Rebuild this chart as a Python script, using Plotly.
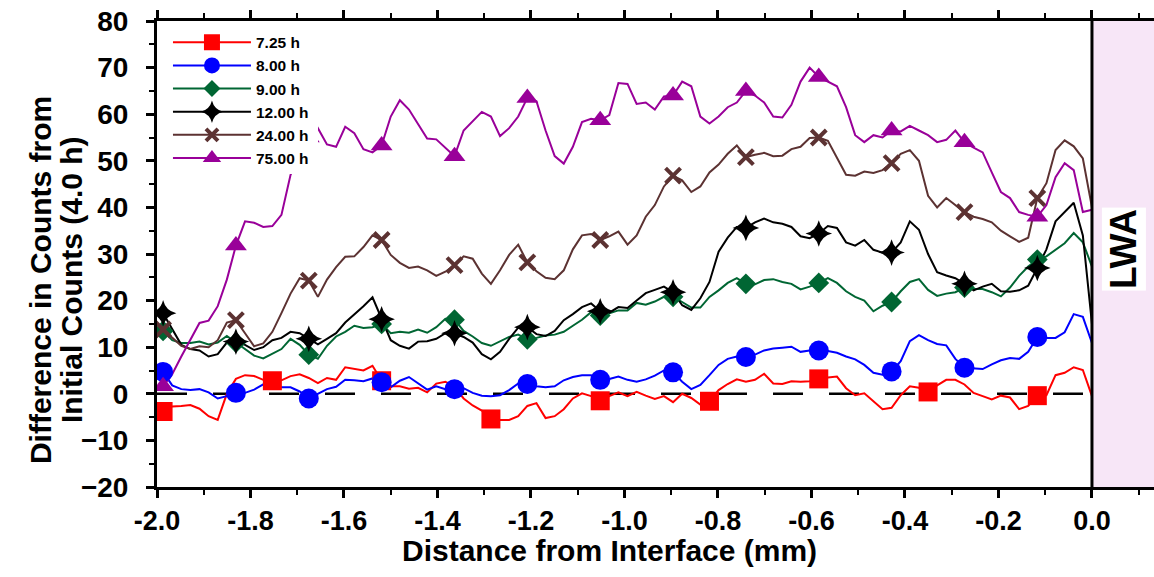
import numpy as np
import plotly.graph_objects as go

# sampling positions (mm from interface), regular measurement grid
distance_mm = np.round(np.linspace(-1.987, 0.0, 103), 4)

diff_7_25h = [-3.8, -2.7, -2.6, -2.4, -3.2, -4.8, -5.6, 0.0, 3.2, 4.0, 3.8, 3.0, 2.8, 2.9, 3.8, 4.2, 3.4,
              2.3, 3.4, 3.0, 5.7, 5.3, 5.0, 6.0, 2.8, 1.6, 1.6, 1.1, 1.3, 0.3, 2.2, 2.6, 1.5, -1.0,
              -2.5, -3.6, -5.4, -5.6, -5.6, -4.8, -2.6, -2.0, -5.2, -4.8, -3.3, -1.0, 0.1, -0.5, -1.5, -0.5, 0.3,
              -0.5, 0.4, -0.4, -1.1, -0.5, -1.8, 0.0, -0.9, -2.3, -1.6, 0.8, 2.1, 3.1, 2.6, 3.0, 4.3, 2.2,
              2.1, 2.7, 2.6, 2.7, 3.2, 3.5, 3.7, 1.2, -0.3, 0.1, -1.6, -3.3, -3.0, -0.3, 1.6, 1.3, 0.4,
              1.8, 3.0, 3.0, 2.0, 0.2, -0.5, -1.2, -0.4, -0.8, -3.3, -2.6, -0.4, -0.3, 4.0, 4.5, 5.7, 5.1, -0.5]

diff_8h = [4.7, 1.8, 1.0, 0.8, 1.0, 0.3, -1.0, -0.5, 0.2, 0.2, 0.9, 2.0, 1.2, 1.4, 1.4, 0.5, -1.0,
           0.0, 1.0, 1.5, 3.0, 2.9, 2.7, 3.3, 2.5, 1.4, 2.8, 3.6, 2.2, 0.9, 1.6, 1.0, 1.0, 1.2,
           0.2, -0.4, -0.5, -0.3, 0.8, 2.2, 2.1, 1.6, 1.4, 1.6, 2.9, 3.6, 4.0, 4.0, 3.0, 3.2, 3.7,
           3.0, 2.6, 3.1, 3.9, 5.0, 4.6, 2.6, 1.0, 1.9, 4.0, 6.2, 7.5, 8.0, 7.9, 8.4, 9.3, 9.7,
           9.9, 10.1, 9.0, 9.3, 9.3, 9.2, 8.8, 8.0, 7.4, 6.2, 4.5, 4.1, 4.8, 7.0, 11.3, 12.6, 11.5,
           10.7, 10.4, 7.5, 5.6, 5.5, 5.3, 6.3, 7.2, 7.7, 7.5, 9.0, 12.2, 12.0, 12.0, 13.2, 17.1, 16.5, 10.9]

diff_9h = [13.5, 11.5, 10.9, 10.9, 11.2, 10.6, 11.0, 12.4, 11.0, 9.6, 8.2, 7.6, 8.6, 9.6, 11.8, 10.5, 8.4,
           7.5, 10.3, 12.3, 13.3, 14.6, 14.1, 14.3, 15.0, 13.0, 13.3, 13.1, 13.8, 13.1, 14.3, 16.1, 15.9, 13.5,
           12.3, 10.9, 10.3, 11.2, 12.2, 12.7, 11.7, 12.0, 12.5, 12.7, 13.3, 14.6, 15.9, 17.5, 16.8, 17.3, 17.9,
           17.9, 19.5, 19.1, 19.8, 20.8, 20.8, 19.7, 18.5, 18.5, 20.8, 22.2, 23.8, 24.8, 23.6, 23.5, 24.4, 24.6,
           24.0, 23.6, 22.4, 23.0, 23.8, 24.8, 23.8, 22.0, 20.8, 20.0, 17.7, 18.9, 19.7, 22.0, 24.0, 24.6, 22.3,
           21.0, 21.5, 21.8, 22.8, 22.5, 22.5, 21.8, 20.9, 22.8, 25.3, 27.3, 28.8, 29.5, 31.0, 32.3, 34.5, 32.5, 27.3]

diff_12h = [17.3, 13.8, 10.5, 9.6, 9.3, 8.0, 8.5, 11.0, 11.2, 10.5, 9.4, 10.0, 11.5, 12.0, 13.3, 13.0, 11.8,
            10.6, 11.8, 13.0, 15.3, 17.0, 18.8, 20.7, 16.0, 11.5, 10.3, 9.7, 11.2, 11.3, 11.8, 13.0, 13.0, 12.2,
            11.0, 8.5, 7.4, 9.0, 11.8, 14.2, 14.3, 12.8, 12.4, 13.5, 15.8, 17.1, 18.6, 19.4, 17.7, 17.4, 18.6,
            18.4, 20.0, 21.6, 22.3, 23.0, 21.8, 19.0, 18.0, 20.5, 24.0, 30.5, 33.5, 35.8, 35.6, 36.8, 37.6, 36.8,
            36.5, 35.8, 33.8, 33.4, 34.4, 36.0, 35.6, 32.5, 31.8, 33.0, 30.9, 30.3, 30.3, 32.5, 37.0, 35.2, 30.0,
            26.1, 25.4, 24.8, 23.6, 22.2, 23.0, 23.6, 22.0, 21.9, 22.2, 23.2, 27.0, 31.0, 37.0, 39.0, 41.0, 34.0, 15.0]

diff_24h = [13.8, 12.0, 10.3, 9.6, 10.2, 10.0, 11.5, 15.3, 15.8, 13.0, 10.2, 10.8, 13.3, 17.3, 21.5, 24.8, 24.3,
            20.8, 24.5, 27.2, 29.4, 29.5, 31.5, 34.0, 33.0, 29.8, 28.1, 27.0, 27.3, 26.5, 25.3, 26.2, 27.6, 29.5,
            29.0, 25.8, 23.6, 26.5, 29.8, 32.0, 28.2, 26.3, 24.9, 24.6, 26.5, 31.0, 34.0, 34.3, 33.0, 33.8, 34.8,
            32.0, 34.0, 38.0, 40.5, 44.5, 46.8, 45.8, 43.3, 44.5, 47.5, 49.2, 51.5, 53.3, 50.8, 51.3, 51.7, 51.0,
            51.1, 52.5, 53.0, 54.9, 55.0, 54.3, 50.5, 47.0, 46.8, 47.7, 47.4, 48.0, 49.5, 51.5, 52.3, 50.0, 42.5,
            40.0, 42.0, 40.5, 39.0, 38.0, 37.5, 36.8, 35.0, 33.8, 32.6, 33.5, 42.0, 45.2, 52.3, 54.4, 53.1, 50.5, 40.0]

diff_75h = [1.6, 4.2, 8.0, 11.6, 15.2, 15.7, 18.8, 24.5, 31.8, 37.0, 36.7, 35.8, 36.0, 38.4, 47.0, 51.0, 55.0,
            57.0, 53.5, 53.0, 57.3, 55.9, 52.5, 51.8, 53.3, 59.5, 63.0, 61.0, 58.0, 54.8, 54.6, 52.8, 51.0, 56.5,
            58.5, 60.5, 59.5, 55.3, 57.0, 59.5, 63.5, 62.8, 56.5, 51.0, 49.4, 53.0, 58.3, 59.0, 58.7, 59.8, 66.7,
            66.5, 62.2, 62.5, 61.0, 63.8, 64.0, 67.0, 66.0, 59.5, 58.0, 59.5, 61.5, 62.5, 65.0, 64.0, 62.5, 59.5,
            59.3, 62.0, 67.0, 70.0, 68.0, 67.0, 66.0, 61.5, 55.5, 54.0, 55.5, 55.0, 56.5, 56.3, 57.5, 56.5, 55.5,
            54.0, 54.5, 56.5, 54.0, 52.8, 51.8, 47.5, 43.3, 42.0, 39.0, 38.4, 38.0, 40.5, 46.5, 49.5, 48.0, 39.0, 39.5]

series_names = ["7.25 h", "8.00 h", "9.00 h", "12.00 h", "24.00 h", "75.00 h"]
series_values = [diff_7_25h, diff_8h, diff_9h, diff_12h, diff_24h, diff_75h]
series_colors = ["#ff0000", "#0000ff", "#006633", "#000000", "#5c3232", "#990099"]
series_symbols = ["square", "circle", "diamond", "star-diamond", "x-thin", "triangle-up"]
marker_sizes = [19, 20, 16, 19, 15, 19]
legend_sizes = [16, 17, 13, 16, 12, 16]
marker_every = [12, 8, 8, 8, 8, 8]

x_ticks = [-2.0, -1.8, -1.6, -1.4, -1.2, -1.0, -0.8, -0.6, -0.4, -0.2, 0.0]
y_ticks = [-20, -10, 0, 10, 20, 30, 40, 50, 60, 70, 80]

FONT = "Liberation Sans, Arial, sans-serif"

fig = go.Figure()

# lines
for name, vals, col in zip(series_names, series_values, series_colors):
    fig.add_trace(go.Scatter(x=distance_mm, y=vals, mode="lines", name=name,
                             line=dict(color=col, width=2), showlegend=False, hoverinfo="skip"))

def marker_style(sym, size, col):
    if sym == "x-thin":
        return dict(symbol=sym, size=size, color=col, line=dict(width=4, color=col))
    return dict(symbol=sym, size=size, color=col, line=dict(width=0))

# markers on every n-th sample
for name, vals, col, sym, ms, n in zip(series_names, series_values, series_colors,
                                       series_symbols, marker_sizes, marker_every):
    fig.add_trace(go.Scatter(x=distance_mm[::n], y=vals[::n], mode="markers", name=name,
                             marker=marker_style(sym, ms, col), showlegend=False))

# legend entries
for name, col, sym, ls in zip(series_names, series_colors, series_symbols, legend_sizes):
    fig.add_trace(go.Scatter(x=[None], y=[None], mode="lines+markers", name=name,
                             line=dict(color=col, width=2),
                             marker=marker_style(sym, ls, col), showlegend=True))

fig.add_shape(type="rect", xref="x", yref="y", x0=0, x1=0.2, y0=-20, y1=80,
              fillcolor="#f7e6f7", line=dict(width=0), layer="below")
fig.add_shape(type="line", xref="x", yref="y", x0=-2.0, x1=0.0, y0=0, y1=0,
              line=dict(color="black", width=2.5, dash="30px,26px"), layer="below")
fig.add_shape(type="line", xref="x", yref="y", x0=0, x1=0, y0=-20, y1=80,
              line=dict(color="black", width=3))
# opaque legend panel (hides the curve passing behind the legend, as in the original)
fig.add_shape(type="rect", xref="paper", yref="paper",
              x0=(160 - 157) / 997, x1=(318 - 157) / 997,
              y0=(487 - 174) / 466, y1=(487 - 24) / 466,
              fillcolor="white", line=dict(width=0), layer="above")

fig.add_annotation(x=0.068, y=31, xref="x", yref="y", text="LWA", textangle=-90,
                   showarrow=False, bgcolor="white",
                   font=dict(family=FONT, size=37, color="black", weight="bold"))

# axis titles
title_font = dict(family=FONT, size=30, color="black", weight="bold")
fig.add_annotation(x=(609 - 157) / 997, y=(487 - 550) / 466, xref="paper", yref="paper",
                   text="Distance from Interface (mm)", showarrow=False,
                   xanchor="center", yanchor="middle", font=title_font)
fig.add_annotation(x=(40 - 157) / 997, y=0.444, xref="paper", yref="paper",
                   text="Difference in Counts from", textangle=-90, showarrow=False,
                   xanchor="center", yanchor="middle", font=title_font)
fig.add_annotation(x=(71 - 157) / 997, y=0.444, xref="paper", yref="paper",
                   text="Initial Counts (4.0 h)", textangle=-90, showarrow=False,
                   xanchor="center", yanchor="middle", font=title_font)

fig.update_layout(
    width=1154, height=577,
    margin=dict(l=157, r=0, t=21, b=90),
    paper_bgcolor="white", plot_bgcolor="white",
    font=dict(family=FONT, size=28, color="black", weight="bold"),
    legend=dict(x=0.011, y=0.99, xanchor="left", yanchor="top", bgcolor="rgba(0,0,0,0)",
                borderwidth=0, font=dict(family=FONT, size=15.5, color="black", weight="bold"),
                itemwidth=78, tracegroupgap=0),
    xaxis=dict(range=[-2.0, 0.1327], tickvals=x_ticks, ticktext=[f"{v:.1f}" for v in x_ticks],
               showgrid=False, zeroline=False, showline=True, linecolor="black", linewidth=3,
               mirror="allticks", ticks="outside", ticklen=8, tickwidth=2.5, tickcolor="black",
               tickfont=dict(size=27),
               minor=dict(dtick=0.1, tick0=-2.0, ticks="outside", ticklen=5, tickwidth=2, tickcolor="black")),
    yaxis=dict(range=[-20, 80], tickvals=y_ticks, showgrid=False, zeroline=False,
               showline=True, linecolor="black", linewidth=3, mirror=False,
               ticks="outside", ticklen=8, tickwidth=2.5, tickcolor="black",
               tickfont=dict(size=28), ticklabelstandoff=12,
               minor=dict(dtick=5, tick0=0, ticks="outside", ticklen=5, tickwidth=2, tickcolor="black")),
)

fig.write_html("out.html")
